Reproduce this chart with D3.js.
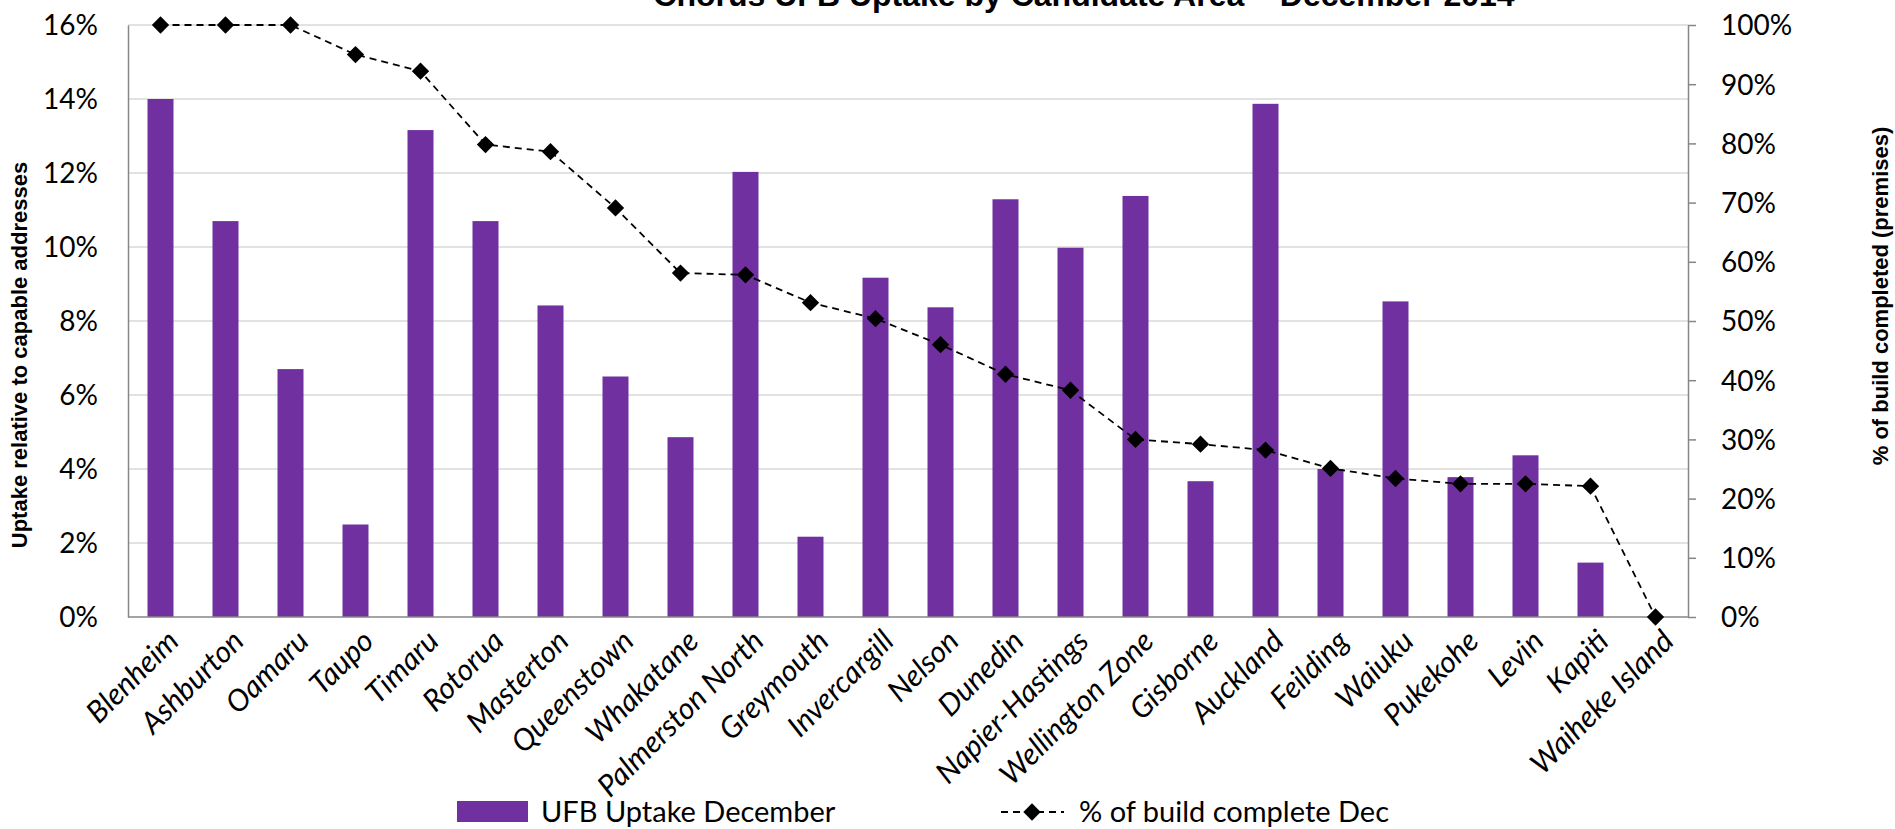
<!DOCTYPE html>
<html>
<head>
<meta charset="utf-8">
<script src="https://cdn.jsdelivr.net/npm/d3@7"></script>
<style>
  body { margin: 0; background: #fff; }
  svg text { font-family: Lato, "Open Sans", sans-serif; fill: #000; }
  .title, .axis-title { font-family: "Liberation Sans", Arial, sans-serif; font-weight: bold; }
</style>
</head>
<body>
<svg id="chart"></svg>
<script>
const categories = ["Blenheim", "Ashburton", "Oamaru", "Taupo", "Timaru", "Rotorua", "Masterton",
  "Queenstown", "Whakatane", "Palmerston North", "Greymouth", "Invercargill", "Nelson", "Dunedin",
  "Napier-Hastings", "Wellington Zone", "Gisborne", "Auckland", "Feilding", "Waiuku", "Pukekohe",
  "Levin", "Kapiti", "Waiheke Island"];
// % uptake relative to capable addresses (left axis)
const uptake = [14.0, 10.7, 6.7, 2.5, 13.16, 10.7, 8.42, 6.5, 4.86, 12.03, 2.17, 9.17, 8.37, 11.29,
  9.98, 11.38, 3.67, 13.87, 4.0, 8.53, 3.78, 4.37, 1.47, 0];
// % of build complete (right axis)
const buildComplete = [100, 100, 100, 95, 92.2, 79.8, 78.6, 69.1, 58.1, 57.8, 53.1, 50.4, 46.0, 41.0,
  38.3, 30.0, 29.2, 28.2, 25.1, 23.4, 22.5, 22.5, 22.1, 0];
const leftTicks = [0, 2, 4, 6, 8, 10, 12, 14, 16];
const rightTicks = [0, 10, 20, 30, 40, 50, 60, 70, 80, 90, 100];

const width = 1895, height = 829;
const plotL = 128, plotR = 1688, plotT = 25, plotB = 617;
const purple = "#7030A0", axisGrey = "#868686", gridGrey = "#d9d9d9";

const svg = d3.select("#chart")
    .attr("width", width)
    .attr("height", height);

const x = d3.scaleBand()
    .domain(categories)
    .range([plotL, plotR])
    .paddingInner(0.6)
    .paddingOuter(0.3);
const yL = d3.scaleLinear().domain([0, 16]).range([plotB, plotT]);
const yR = d3.scaleLinear().domain([0, 100]).range([plotB, plotT]);
const cx = d => x(d) + x.bandwidth() / 2;

// gridlines
svg.append("g")
  .selectAll("line")
  .data(leftTicks.filter(t => t > 0))
  .enter().append("line")
    .attr("x1", plotL).attr("x2", plotR)
    .attr("y1", d => yL(d)).attr("y2", d => yL(d))
    .attr("stroke", gridGrey)
    .attr("stroke-width", 1.5);

// bars
svg.append("g")
  .selectAll("rect")
  .data(categories)
  .enter().append("rect")
    .attr("x", d => x(d))
    .attr("width", x.bandwidth())
    .attr("y", (d, i) => yL(uptake[i]))
    .attr("height", (d, i) => plotB - yL(uptake[i]))
    .attr("fill", purple);

// left axis
let leftAxis = svg.append("g")
    .attr("transform", `translate(${plotL},0)`)
    .call(d3.axisLeft(yL).tickValues(leftTicks).tickSize(0).tickPadding(30).tickFormat(d => d + "%"));
leftAxis.select(".domain").attr("stroke", axisGrey).attr("stroke-width", 1.5);
leftAxis.selectAll("text").style("font-size", "28px").attr("dy", "0.35em");

// right axis
let rightAxis = svg.append("g")
    .attr("transform", `translate(${plotR},0)`)
    .call(d3.axisRight(yR).tickValues(rightTicks).tickSizeInner(8).tickSizeOuter(0).tickPadding(25).tickFormat(d => d + "%"));
rightAxis.select(".domain").attr("stroke", axisGrey).attr("stroke-width", 1.5);
rightAxis.selectAll(".tick line").attr("stroke", axisGrey).attr("stroke-width", 1.5);
rightAxis.selectAll("text").style("font-size", "28px").attr("dy", "0.35em");

// bottom axis line
svg.append("line")
    .attr("x1", plotL).attr("x2", plotR)
    .attr("y1", plotB).attr("y2", plotB)
    .attr("stroke", axisGrey)
    .attr("stroke-width", 1.5);

// category labels
svg.append("g")
  .selectAll("text")
  .data(categories)
  .enter().append("text")
    .attr("transform", d => `translate(${cx(d) + 20},${plotB + 26})rotate(-45)`)
    .attr("text-anchor", "end")
    .style("font-size", "30px")
    .style("font-style", "italic")
    .text(d => d);

// build-complete line
const line = d3.line()
    .x(d => cx(d.c))
    .y(d => yR(d.v));
const pts = categories.map((c, i) => ({c: c, v: buildComplete[i]}));

svg.append("path")
    .datum(pts)
    .attr("d", line)
    .attr("fill", "none")
    .attr("stroke", "#000")
    .attr("stroke-width", 1.8)
    .attr("stroke-dasharray", "7,5");

const diamond = d3.symbol().type(d3.symbolSquare).size(150);
svg.append("g")
  .selectAll("path")
  .data(pts)
  .enter().append("path")
    .attr("d", diamond)
    .attr("transform", d => `translate(${cx(d.c)},${yR(d.v)})rotate(45)`)
    .attr("fill", "#000");

// titles
svg.append("text")
    .attr("class", "title")
    .attr("x", 1084).attr("y", 6)
    .attr("text-anchor", "middle")
    .style("font-size", "32px")
    .text("Chorus UFB Uptake by Candidate Area \u2013 December 2014");

svg.append("text")
    .attr("class", "axis-title")
    .attr("transform", "translate(27,355)rotate(-90)")
    .attr("text-anchor", "middle")
    .style("font-size", "22px")
    .text("Uptake relative to capable addresses");

svg.append("text")
    .attr("class", "axis-title")
    .attr("transform", "translate(1888,296)rotate(-90)")
    .attr("text-anchor", "middle")
    .style("font-size", "22px")
    .text("% of build completed (premises)");

// legend
let legend = svg.append("g");
legend.append("rect")
    .attr("x", 457).attr("y", 801)
    .attr("width", 71).attr("height", 21)
    .attr("fill", purple);
legend.append("text")
    .attr("x", 541).attr("y", 812).attr("dy", "0.35em")
    .style("font-size", "29px")
    .text("UFB Uptake December");
legend.append("line")
    .attr("x1", 1001).attr("x2", 1064)
    .attr("y1", 812).attr("y2", 812)
    .attr("stroke", "#000")
    .attr("stroke-width", 1.8)
    .attr("stroke-dasharray", "7,5");
legend.append("path")
    .attr("d", diamond)
    .attr("transform", "translate(1032,812)rotate(45)")
    .attr("fill", "#000");
legend.append("text")
    .attr("x", 1079).attr("y", 812).attr("dy", "0.35em")
    .style("font-size", "29px")
    .text("% of build complete Dec");
</script>
</body>
</html>
